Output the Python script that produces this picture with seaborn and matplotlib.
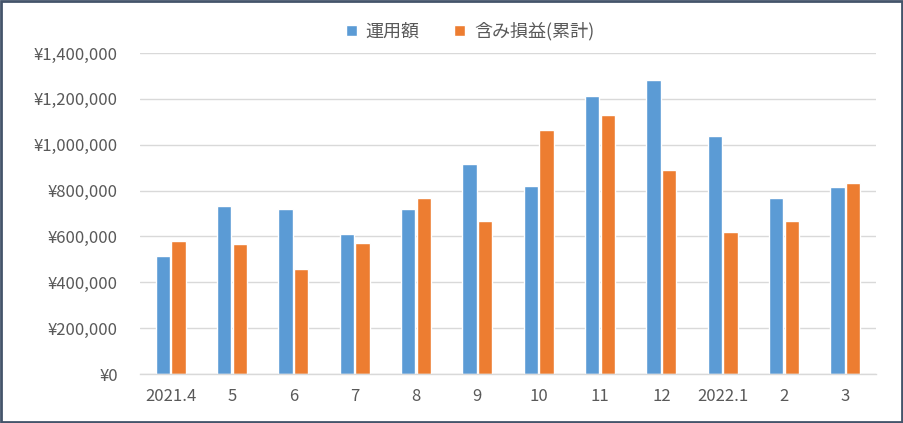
# load packages
import pandas as pd
import seaborn as sns
import matplotlib.pyplot as plt
from matplotlib.ticker import FuncFormatter
from matplotlib.patches import Rectangle

# monthly values
months = ['2021.4', '5', '6', '7', '8', '9', '10', '11', '12', '2022.1', '2', '3']
unyou = [515000, 733000, 720000, 611000, 720000, 916000, 820000, 1213000, 1283000, 1039000, 768000, 816000]
fukumi = [580000, 567000, 458000, 572000, 768000, 668000, 1065000, 1130000, 890000, 620000, 668000, 833000]
series_names = ['運用額', '含み損益(累計)']

# long table for seaborn
df = pd.DataFrame({
    'month': months * 2,
    'value': unyou + fukumi,
    'series': [series_names[0]] * len(months) + [series_names[1]] * len(months),
})

sns.set_style('white')
plt.rcParams['font.family'] = ['Noto Sans CJK JP', 'DejaVu Sans']

fig = plt.figure(figsize=(9.04, 4.23), dpi=100)
ax = fig.add_axes([140 / 904, 1 - 374 / 423, 736 / 904, 321 / 423])

sns.barplot(data=df, x='month', y='value', hue='series', order=months,
            palette=['#5B9BD5', '#ED7D31'], width=0.51, gap=0.08,
            saturation=1, ax=ax, legend=True)

# axes look
ax.set_ylim(0, 1400000)
ax.set_xlim(-0.5, len(months) - 0.5)
ax.set_yticks(range(0, 1400001, 200000))
ax.yaxis.set_major_formatter(FuncFormatter(lambda v, p: '¥{:,.0f}'.format(v)))
ax.grid(axis='y', color='#D9D9D9', linewidth=1)
ax.set_axisbelow(True)
for side in ['top', 'right', 'left']:
    ax.spines[side].set_visible(False)
ax.spines['bottom'].set_color('#D9D9D9')
ax.spines['bottom'].set_linewidth(1)
ax.set_xlabel('')
ax.set_ylabel('')

# category boundary ticks like excel
ax.set_xticks([i - 0.5 for i in range(len(months) + 1)], minor=True)
ax.tick_params(axis='x', which='minor', length=5, color='#D9D9D9', width=1)
ax.tick_params(axis='x', which='major', length=0, pad=10, labelsize=12, labelcolor='#595959')
ax.tick_params(axis='y', length=0, pad=16, labelsize=12, labelcolor='#595959')

# legend on top
leg = ax.legend(loc='lower center', bbox_to_anchor=(330 / 736, 1.015), ncol=2, frameon=False,
                fontsize=13, handlelength=0.6, handleheight=0.6, handletextpad=0.5,
                columnspacing=1.9, borderaxespad=0)
for t in leg.get_texts():
    t.set_color('#595959')

# dark frame round the chart
fig.patches.append(Rectangle((0.001, 0.002), 0.997, 0.995, transform=fig.transFigure,
                             fill=False, edgecolor='#44546A', linewidth=2))

fig.savefig('out.png', dpi=100)
